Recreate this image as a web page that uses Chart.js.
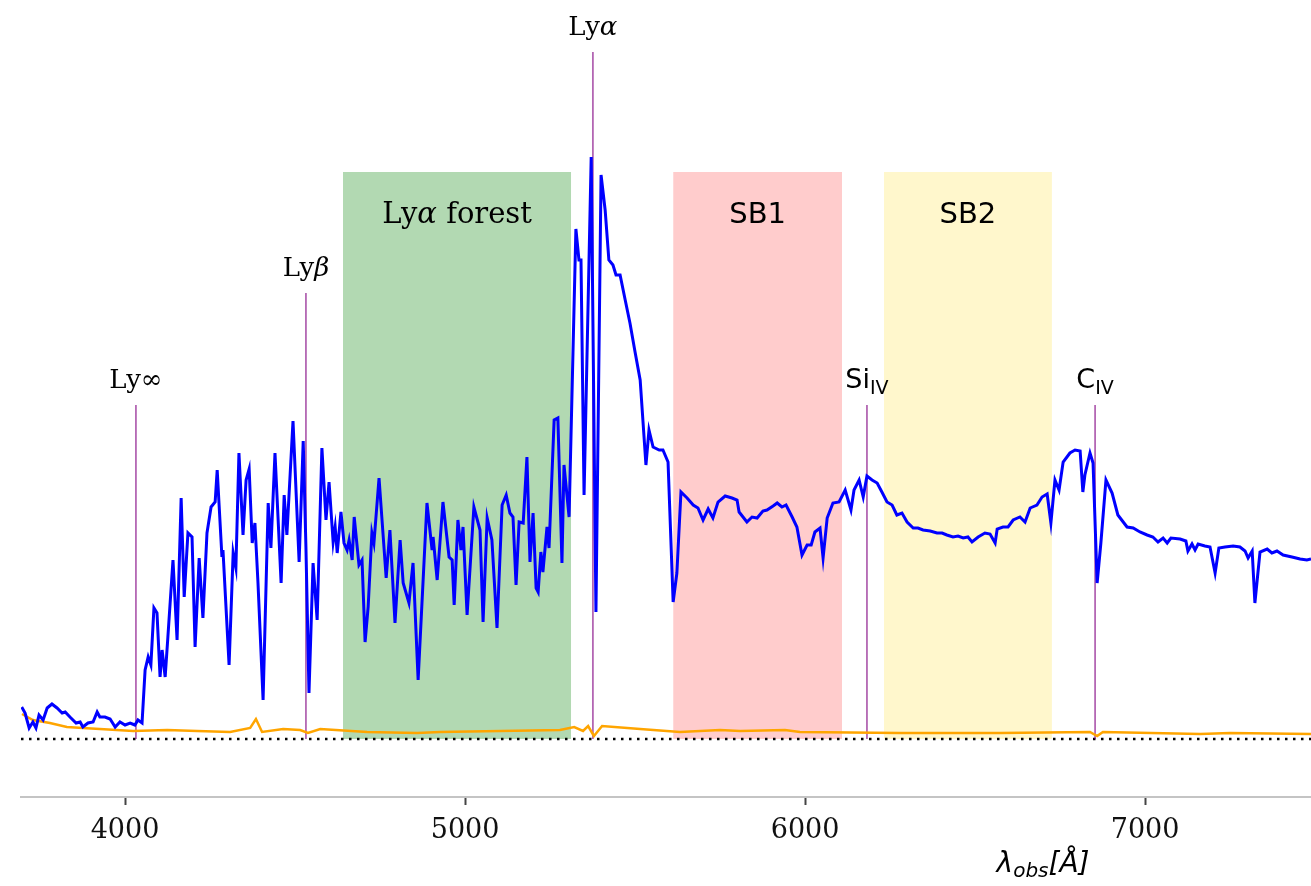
<!DOCTYPE html>
<html>
<head>
<meta charset="utf-8">
<title>Spectrum</title>
<script src="https://cdn.jsdelivr.net/npm/chart.js@4.4.0/dist/chart.umd.min.js"></script>
<style>
    html, body { margin: 0; padding: 0; background: #fff; }
    #spectrum { display: block; }
</style>
</head>
<body>
<canvas id="spectrum" width="1311" height="886"></canvas>
<script>
// observed wavelength (Angstrom) and flux of the spectrum
const wavelength = [
    3696, 3706, 3718, 3729, 3738, 3747, 3759, 3771, 3785, 3800,
    3815, 3824, 3838, 3856, 3868, 3876, 3891, 3906, 3918, 3926,
    3941, 3956, 3971, 3985, 4000, 4015, 4029, 4038, 4050, 4059,
    4068, 4076, 4085, 4094, 4103, 4109, 4118, 4126, 4141, 4153,
    4165, 4174, 4185, 4197, 4206, 4218, 4229, 4241, 4253, 4265,
    4271, 4285, 4288, 4306, 4318, 4326, 4335, 4347, 4356, 4365,
    4374, 4382, 4391, 4406, 4421, 4429, 4441, 4459, 4468, 4476,
    4494, 4512, 4524, 4532, 4541, 4553, 4565, 4579, 4591, 4600,
    4612, 4618, 4624, 4635, 4644, 4653, 4659, 4668, 4674, 4688,
    4697, 4706, 4715, 4726, 4732, 4747, 4768, 4779, 4794, 4809,
    4818, 4835, 4847, 4862, 4888, 4903, 4906, 4918, 4935, 4953,
    4962, 4968, 4979, 4988, 4994, 5006, 5026, 5044, 5053, 5065,
    5079, 5094, 5109, 5121, 5132, 5141, 5150, 5159, 5171, 5182,
    5191, 5200, 5209, 5215, 5223, 5229, 5241, 5247, 5262, 5273,
    5285, 5291, 5306, 5326, 5335, 5341, 5350, 5371, 5385, 5400,
    5412, 5423, 5435, 5444, 5456, 5471, 5485, 5500, 5515, 5532,
    5541, 5553, 5571, 5582, 5597, 5612, 5623, 5635, 5653, 5671,
    5685, 5700, 5715, 5729, 5744, 5765, 5785, 5800, 5806, 5829,
    5844, 5859, 5876, 5888, 5906, 5918, 5932, 5944, 5962, 5976,
    5991, 6006, 6018, 6029, 6044, 6053, 6065, 6082, 6100, 6118,
    6135, 6144, 6159, 6171, 6182, 6197, 6212, 6226, 6241, 6256,
    6270, 6285, 6300, 6318, 6332, 6347, 6368, 6388, 6403, 6417,
    6435, 6450, 6465, 6479, 6491, 6509, 6529, 6544, 6559, 6565,
    6582, 6597, 6612, 6632, 6647, 6662, 6682, 6697, 6712, 6723,
    6735, 6747, 6759, 6779, 6794, 6809, 6817, 6823, 6838, 6847,
    6859, 6870, 6885, 6903, 6920, 6947, 6965, 6985, 7006, 7023,
    7038, 7053, 7065, 7076, 7103, 7120, 7126, 7138, 7147, 7156,
    7176, 7191, 7206, 7217, 7235, 7259, 7279, 7294, 7303, 7315,
    7323, 7338, 7359, 7373, 7388, 7406, 7432, 7456, 7476, 7488
];
const flux = [
    0.32, 0.26, 0.11, 0.17, 0.11, 0.24, 0.19, 0.31, 0.35, 0.31,
    0.26, 0.27, 0.22, 0.16, 0.17, 0.12, 0.16, 0.17, 0.27, 0.22,
    0.22, 0.20, 0.12, 0.17, 0.14, 0.16, 0.14, 0.19, 0.16, 0.69,
    0.82, 0.74, 1.31, 1.26, 0.62, 0.89, 0.62, 1.02, 1.79, 0.99,
    2.41, 1.42, 2.06, 2.02, 0.92, 1.81, 1.21, 2.06, 2.32, 2.37,
    2.69, 1.82, 1.89, 0.74, 1.86, 1.71, 2.86, 2.04, 2.59, 2.70,
    1.96, 2.16, 1.56, 0.39, 2.36, 1.91, 2.86, 1.56, 2.44, 2.04,
    3.18, 1.77, 2.98, 1.92, 0.46, 1.76, 1.19, 2.91, 2.19, 2.57,
    1.97, 2.12, 1.86, 2.27, 1.96, 1.89, 1.99, 1.79, 2.22, 1.74,
    1.79, 0.97, 1.32, 2.06, 1.96, 2.61, 1.61, 2.09, 1.16, 1.99,
    1.56, 1.36, 1.76, 0.59, 2.36, 1.89, 2.02, 1.59, 2.37, 1.82,
    1.79, 1.34, 2.19, 1.89, 2.12, 1.24, 2.32, 2.09, 1.17, 2.21,
    1.99, 1.11, 2.34, 2.44, 2.26, 2.22, 1.54, 2.17, 2.16, 2.82,
    1.77, 2.26, 1.51, 1.47, 1.87, 1.67, 2.12, 1.91, 3.19, 3.21,
    1.76, 2.74, 2.22, 5.10, 4.79, 4.79, 2.44, 5.82, 1.27, 5.64,
    5.29, 4.79, 4.74, 4.64, 4.64, 4.39, 4.16, 3.87, 3.59, 2.74,
    3.09, 2.92, 2.89, 2.89, 2.77, 1.37, 1.66, 2.47, 2.41, 2.34,
    2.31, 2.19, 2.30, 2.21, 2.37, 2.43, 2.41, 2.39, 2.27, 2.17,
    2.22, 2.21, 2.28, 2.29, 2.33, 2.36, 2.32, 2.34, 2.22, 2.12,
    1.84, 1.94, 1.94, 2.07, 2.11, 1.81, 2.21, 2.36, 2.37, 2.49,
    2.29, 2.49, 2.59, 2.42, 2.63, 2.59, 2.56, 2.47, 2.37, 2.34,
    2.24, 2.26, 2.17, 2.11, 2.11, 2.09, 2.08, 2.06, 2.06, 2.04,
    2.02, 2.03, 2.01, 2.02, 1.97, 2.02, 2.06, 2.05, 1.96, 2.10,
    2.12, 2.12, 2.19, 2.22, 2.17, 2.31, 2.34, 2.42, 2.45, 2.16,
    2.59, 2.49, 2.77, 2.86, 2.89, 2.88, 2.47, 2.64, 2.86, 2.76,
    1.56, 1.96, 2.59, 2.46, 2.24, 2.12, 2.11, 2.07, 2.04, 2.02,
    1.97, 2.01, 1.96, 2.01, 2.00, 1.98, 1.88, 1.95, 1.89, 1.95,
    1.93, 1.92, 1.66, 1.91, 1.92, 1.93, 1.92, 1.88, 1.81, 1.88,
    1.36, 1.87, 1.90, 1.86, 1.88, 1.84, 1.82, 1.80, 1.79, 1.80
];

// noise spectrum (orange)
const noiseWave = [
    3697, 3729, 3779, 3829, 3876, 3926, 4024, 4124, 4212, 4309,
    4368, 4385, 4403, 4465, 4515, 4538, 4574, 4712, 4859, 4926,
    5103, 5279, 5321, 5347, 5362, 5379, 5403, 5515, 5632, 5691,
    5750, 5809, 5941, 5985, 6279, 6573, 6838, 6859, 6876, 7162,
    7250, 7488
];
const noiseFlux = [
    0.25, 0.19, 0.16, 0.12, 0.11, 0.10, 0.08, 0.09, 0.08, 0.07,
    0.11, 0.20, 0.07, 0.10, 0.09, 0.06, 0.10, 0.07, 0.06, 0.07,
    0.08, 0.09, 0.12, 0.08, 0.13, 0.03, 0.13, 0.10, 0.07, 0.08,
    0.09, 0.08, 0.09, 0.07, 0.06, 0.06, 0.07, 0.03, 0.07, 0.05,
    0.06, 0.05
];

// emission lines at z ~ 3.42
const lineName = ['Ly∞', 'Lyβ', 'Lyα', 'Si', 'C'];
const lineSub = ['', '', '', 'IV', 'IV'];
const lineWave = [4032, 4532, 5376, 6182, 6853];
const lineTop = [3.34, 4.46, 6.87, 3.34, 3.34];

// shaded windows
const bandName = ['Lyα forest', 'SB1', 'SB2'];
const bandStart = [4641, 5612, 6232];
const bandEnd = [5312, 6109, 6726];
const bandTop = [5.67, 5.67, 5.67];

const xTicks = [4000, 5000, 6000, 7000];
const xMin = 3694, xMax = 7488;
const yMin = -0.58, yMax = 7.39;
const xTitleAt = 6700;

var SERIF = '"DejaVu Serif"';
var SANS = '"DejaVu Sans"';
var bandColor = ['rgba(0, 128, 0, 0.3)', 'rgba(255, 0, 0, 0.2)', 'rgba(255, 215, 0, 0.2)'];

function drawParts(ctx, parts, cx, y) {
    var total = 0;
    parts.forEach(p => {
        ctx.font = p.font;
        p.w = ctx.measureText(p.text).width;
        total += p.w;
    });
    var x = cx - total / 2;
    parts.forEach(p => {
        ctx.font = p.font;
        ctx.fillText(p.text, x, y + (p.dy || 0));
        x += p.w;
    });
}

// greek letters go in italic, like matplotlib mathtext
function labelParts(text, family, size) {
    var parts = [];
    text.split(/([αβ])/).forEach(s => {
        if (!s) return;
        var italic = /[αβ]/.test(s);
        parts.push({ text: s, font: (italic ? 'italic ' : '') + size + 'px ' + family });
    });
    return parts;
}

var textPlugin = {
    id: 'spectrumText',
    afterDatasetsDraw(chart) {
        var ctx = chart.ctx;
        var xs = chart.scales.x, ys = chart.scales.y;
        ctx.save();
        ctx.fillStyle = '#000';
        ctx.textAlign = 'left';
        ctx.textBaseline = 'alphabetic';

        bandName.forEach((name, i) => {
            var cx = (xs.getPixelForValue(bandStart[i]) + xs.getPixelForValue(bandEnd[i])) / 2;
            var y = ys.getPixelForValue(bandTop[i]) + 51;
            var family = /Ly/.test(name) ? SERIF : SANS;
            drawParts(ctx, labelParts(name, family, 29), cx, y);
        });

        lineName.forEach((name, i) => {
            var cx = xs.getPixelForValue(lineWave[i]);
            var y = ys.getPixelForValue(lineTop[i]) - 17;
            var parts;
            if (lineSub[i]) {
                parts = [
                    { text: name, font: '27px ' + SANS },
                    { text: lineSub[i], font: '19px ' + SANS, dy: 6 }
                ];
            } else {
                parts = labelParts(name, SERIF, 26);
            }
            drawParts(ctx, parts, cx, y);
        });

        // x label sits at the middle of the full (uncropped) axis
        drawParts(ctx, [
            { text: 'λ', font: 'italic 28px ' + SANS },
            { text: 'obs', font: 'italic 20px ' + SANS, dy: 5 },
            { text: '[Å]', font: 'italic 28px ' + SANS }
        ], xs.getPixelForValue(xTitleAt), chart.chartArea.bottom + 75);

        ctx.restore();
    }
};

var datasets = [];

datasets.push({
    label: 'flux',
    data: wavelength.map((w, i) => ({ x: w, y: flux[i] })),
    borderColor: '#0000ff',
    borderWidth: 3,
    order: 1
});

datasets.push({
    label: 'noise',
    data: noiseWave.map((w, i) => ({ x: w, y: noiseFlux[i] })),
    borderColor: '#ffa500',
    borderWidth: 2.5,
    order: 2
});

lineWave.forEach((w, i) => {
    datasets.push({
        label: lineName[i],
        data: [{ x: w, y: 0 }, { x: w, y: lineTop[i] }],
        borderColor: 'rgba(128, 0, 128, 0.6)',
        borderWidth: 1.8,
        order: 3
    });
});

datasets.push({
    label: 'zero',
    data: [{ x: xMin, y: 0 }, { x: xMax, y: 0 }],
    borderColor: '#000',
    borderWidth: 2.5,
    borderDash: [2.5, 5.5],
    order: 4
});

bandName.forEach((name, i) => {
    datasets.push({
        label: name,
        data: [{ x: bandStart[i], y: bandTop[i] }, { x: bandEnd[i], y: bandTop[i] }],
        borderColor: 'rgba(0, 0, 0, 0)',
        borderWidth: 0.01,
        backgroundColor: bandColor[i],
        fill: 'origin',
        order: 5
    });
});

var ctx = document.getElementById('spectrum').getContext('2d');
var chart = new Chart(ctx, {
    type: 'line',
    data: { datasets: datasets },
    plugins: [textPlugin],
    options: {
        responsive: false,
        animation: false,
        devicePixelRatio: 1,
        layout: { padding: { left: 21, right: 0, top: 0, bottom: 0 } },
        elements: {
            point: { radius: 0, hoverRadius: 0 },
            line: { tension: 0, fill: false }
        },
        plugins: {
            legend: { display: false },
            tooltip: { enabled: false }
        },
        scales: {
            x: {
                type: 'linear',
                min: xMin,
                max: xMax,
                afterBuildTicks: scale => {
                    scale.ticks = xTicks.map(v => ({ value: v }));
                },
                afterFit: scale => {
                    scale.height = 89;
                },
                border: { display: true, color: '#c4c4c4', width: 2 },
                grid: {
                    drawOnChartArea: false,
                    drawTicks: true,
                    tickLength: 8,
                    tickColor: '#444',
                    tickWidth: 2
                },
                ticks: {
                    color: '#111',
                    padding: 10,
                    maxRotation: 0,
                    autoSkip: false,
                    font: { family: 'DejaVu Serif', size: 27 },
                    callback: function (value) {
                        return String(value);
                    }
                }
            },
            y: {
                type: 'linear',
                display: false,
                min: yMin,
                max: yMax
            }
        }
    }
});
</script>
</body>
</html>
